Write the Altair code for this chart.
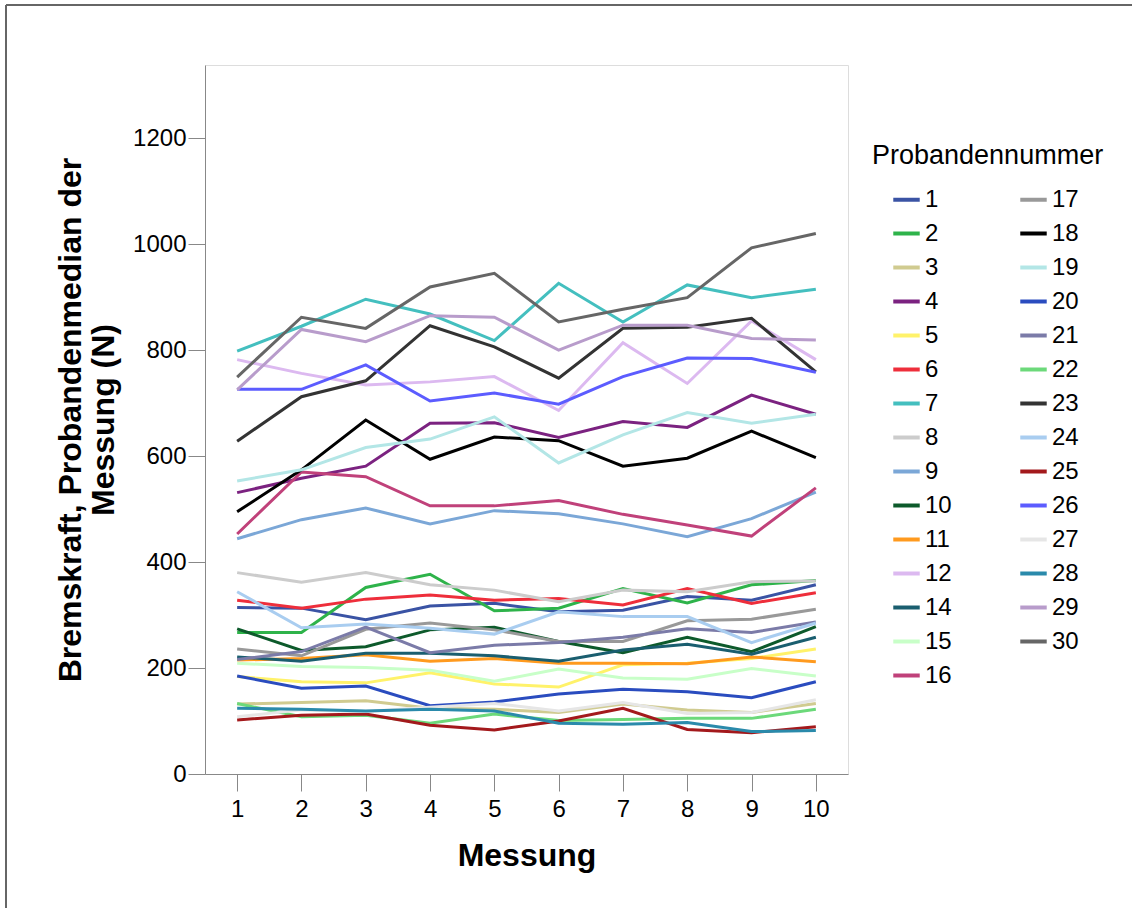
import altair as alt
import pandas as pd

messung = [1, 2, 3, 4, 5, 6, 7, 8, 9, 10]

p1 = [314, 313, 291, 317, 322, 306, 309, 335, 328, 357]
p2 = [267, 267, 352, 377, 308, 313, 350, 323, 357, 365]
p3 = [132, 135, 138, 124, 122, 116, 132, 121, 116, 133]
p4 = [531, 558, 581, 662, 663, 635, 665, 654, 715, 679]
p5 = [184, 174, 172, 191, 170, 164, 206, 209, 218, 236]
p6 = [328, 313, 330, 338, 328, 331, 319, 350, 322, 342]
p7 = [798, 845, 896, 868, 818, 926, 853, 923, 899, 915]
p8 = [380, 362, 380, 357, 347, 325, 347, 344, 363, 364]
p9 = [444, 480, 502, 472, 497, 491, 472, 448, 482, 532]
p10 = [274, 233, 240, 272, 277, 250, 229, 258, 231, 278]
p11 = [215, 218, 225, 213, 218, 209, 209, 208, 221, 212]
p12 = [782, 756, 734, 740, 750, 686, 814, 737, 855, 782]
p14 = [221, 213, 228, 228, 223, 213, 234, 245, 226, 258]
p15 = [209, 203, 201, 196, 175, 198, 181, 179, 199, 185]
p16 = [453, 570, 561, 506, 506, 516, 490, 470, 449, 540]
p17 = [236, 223, 273, 285, 272, 250, 250, 289, 292, 311]
p18 = [495, 574, 668, 594, 636, 629, 581, 596, 647, 597]
p19 = [553, 574, 616, 632, 674, 587, 640, 682, 662, 679]
p20 = [185, 162, 166, 129, 136, 151, 160, 155, 144, 174]
p21 = [216, 231, 277, 229, 243, 248, 258, 274, 267, 287]
p22 = [133, 108, 111, 96, 113, 101, 103, 105, 105, 122]
p23 = [628, 712, 742, 846, 806, 747, 841, 843, 860, 759]
p24 = [344, 276, 283, 275, 264, 306, 297, 297, 248, 285]
p25 = [102, 111, 113, 92, 83, 100, 124, 84, 78, 89]
p26 = [726, 726, 772, 704, 719, 698, 750, 785, 784, 758]
p27 = [108, 121, 118, 126, 133, 119, 135, 114, 116, 140]
p28 = [124, 122, 119, 122, 119, 96, 94, 97, 80, 82]
p29 = [725, 839, 816, 865, 862, 800, 847, 847, 822, 819]
p30 = [749, 862, 841, 919, 945, 853, 877, 899, 993, 1020]

probanden = ["1", "2", "3", "4", "5", "6", "7", "8", "9", "10", "11", "12", "14", "15",
             "16", "17", "18", "19", "20", "21", "22", "23", "24", "25", "26", "27",
             "28", "29", "30"]
werte = [p1, p2, p3, p4, p5, p6, p7, p8, p9, p10, p11, p12, p14, p15, p16, p17, p18,
         p19, p20, p21, p22, p23, p24, p25, p26, p27, p28, p29, p30]
farben = ["#3a53a4", "#2eb34a", "#d0cb90", "#7b2280", "#fff26a", "#ee2e3b", "#44bfbf",
          "#cccccc", "#7ba7d7", "#0d5a2b", "#ff9a1e", "#dcb9f0", "#1a5e6f", "#c8ffc8",
          "#c0417a", "#999999", "#000000", "#b3e6e6", "#2a4cbf", "#7b7ba8", "#6cd97a",
          "#333333", "#a9cdf0", "#a3191c", "#5c5cff", "#e6e6e6", "#2a8aab", "#b89ccb",
          "#666666"]

rows = []
for i, (p, vals) in enumerate(zip(probanden, werte)):
    for m, v in zip(messung, vals):
        rows.append({"Messung": m, "Wert": v, "Proband": p, "ord": i})
df = pd.DataFrame(rows)

FONT = "Liberation Sans"

lines = alt.Chart(df).mark_line(strokeWidth=3).encode(
    x=alt.X("Messung:Q",
            scale=alt.Scale(domain=[0.5, 10.5], nice=False, zero=False),
            axis=alt.Axis(values=messung, title="Messung", format="d",
                          labelFont=FONT, labelFontSize=24,
                          titleFont=FONT, titleFontSize=32,
                          titleFontWeight="bold", titlePadding=19, labelPadding=6,
                          tickSize=17, grid=False)),
    y=alt.Y("Wert:Q",
            scale=alt.Scale(domain=[0, 1338], nice=False),
            axis=alt.Axis(values=[0, 200, 400, 600, 800, 1000, 1200], format="d",
                          title=["Bremskraft, Probandenmedian der", "Messung (N)"],
                          labelFont=FONT, labelFontSize=24, titleFont=FONT,
                          titleFontSize=32, titleFontWeight="bold", titleLineHeight=33,
                          titlePadding=12, labelPadding=2, tickSize=17, grid=False,
                          titleLimit=800)),
    color=alt.Color("Proband:N",
                    scale=alt.Scale(domain=probanden, range=farben),
                    legend=alt.Legend(title="Probandennummer", columns=2,
                                      orient="none", legendX=667, legendY=78,
                                      symbolType="stroke", symbolSize=700,
                                      symbolStrokeWidth=4, symbolOffset=19,
                                      labelFont=FONT,
                                      labelFontSize=24, titleFont=FONT,
                                      titleFontSize=27, titleFontWeight="normal",
                                      titlePadding=14, rowPadding=6,
                                      columnPadding=47, labelOffset=3,
                                      labelLimit=200, titleLimit=400)),
    detail="Proband:N",
    order=alt.Order("ord:Q"),
)

frame_df = pd.DataFrame({"a": [0]})
top_rule = alt.Chart(frame_df).mark_rule(color="#666666", strokeWidth=2).encode(
    x=alt.value(-199), x2=alt.value(930), y=alt.value(-60))
left_rule = alt.Chart(frame_df).mark_rule(color="#666666", strokeWidth=2).encode(
    x=alt.value(-199), y=alt.value(-60), y2=alt.value(850))

chart = alt.layer(lines, top_rule, left_rule).properties(
    width=643, height=709,
    autosize=alt.AutoSizeParams(type="none"),
    padding={"left": 205, "top": 65, "right": 284, "bottom": 134},
).configure_view(stroke="#555555", strokeWidth=1.5).configure_axis(
    domainColor="#555555", tickColor="#555555", labelColor="#111111",
    titleColor="#000000", domainWidth=1.5, tickWidth=1.5
).configure(background="white")

chart.save("out.html", embed_options={"renderer": "svg", "actions": False})
